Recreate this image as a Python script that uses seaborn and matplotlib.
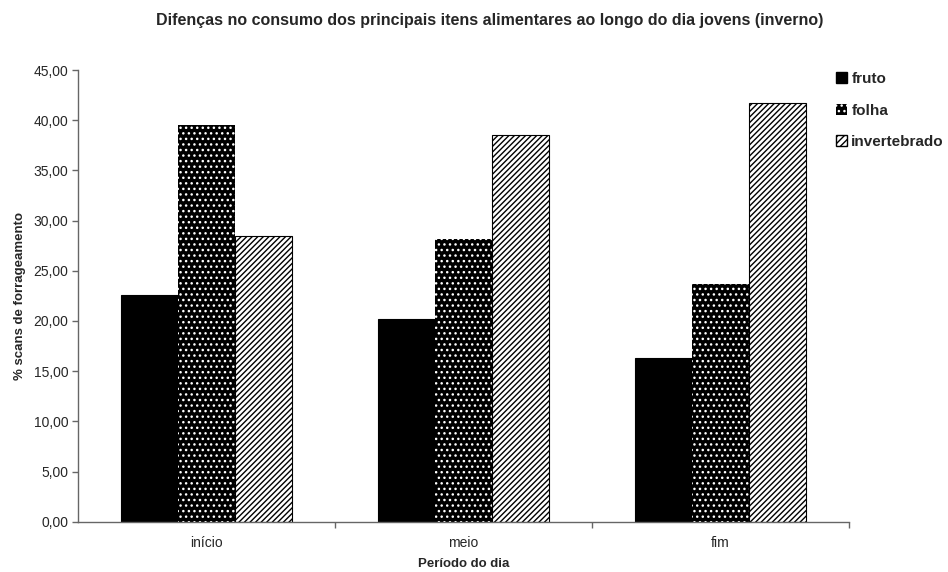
import matplotlib
matplotlib.use("Agg")
import matplotlib.pyplot as plt
from matplotlib.patches import Patch
from matplotlib.ticker import FuncFormatter, FixedLocator
import seaborn as sns
import pandas as pd

# Data
periodos = ["início", "meio", "fim"]
itens = ["fruto", "folha", "invertebrado"]
fruto = [22.6, 20.2, 16.3]
folha = [39.5, 28.2, 23.7]
invertebrado = [28.5, 38.5, 41.7]

df = pd.DataFrame({
    "periodo": periodos * 3,
    "item": [itens[0]] * 3 + [itens[1]] * 3 + [itens[2]] * 3,
    "valor": fruto + folha + invertebrado,
})

sns.set_style("white")
plt.rcParams["font.family"] = ["Liberation Sans", "DejaVu Sans"]
plt.rcParams["hatch.linewidth"] = 1.0

fig = plt.figure(figsize=(9.48, 5.72), dpi=100)
ax = fig.add_axes([78 / 948, 1 - 521.7 / 572, (849 - 78) / 948, (521.7 - 70) / 572])

sns.barplot(data=df, x="periodo", y="valor", hue="item", order=periodos,
            hue_order=itens, palette=["black", "black", "white"],
            width=0.665, gap=0, legend=False, ax=ax, saturation=1)

# Style each series: solid, dotted, diagonal stripes
styles = [
    dict(facecolor="black", edgecolor="black", hatch=None, lw=0.8),
    dict(facecolor="black", edgecolor="white", hatch="...", lw=0),
    dict(facecolor="white", edgecolor="black", hatch="//////", lw=0.8),
]
for cont, st in zip(ax.containers, styles):
    for bar in cont:
        bar.set_facecolor(st["facecolor"])
        bar.set_edgecolor(st["edgecolor"])
        bar.set_linewidth(st["lw"])
        if st["hatch"]:
            bar.set_hatch(st["hatch"])

ax.set_ylim(0, 45)
ax.set_xlim(-0.5, 2.5)
ax.yaxis.set_major_locator(FixedLocator([0, 5, 10, 15, 20, 25, 30, 35, 40, 45]))
ax.yaxis.set_major_formatter(FuncFormatter(lambda v, p: f"{v:.2f}".replace(".", ",")))
ax.xaxis.set_minor_locator(FixedLocator([0.5, 1.5, 2.5]))

for s in ["top", "right"]:
    ax.spines[s].set_visible(False)
for s in ["left", "bottom"]:
    ax.spines[s].set_color("#666666")
    ax.spines[s].set_linewidth(1.0)

ax.tick_params(axis="y", which="major", direction="out", length=4, width=1,
               color="#666666", labelsize=10, left=True, pad=3)
ax.tick_params(axis="x", which="major", length=0, labelsize=10, pad=10)
ax.tick_params(axis="x", which="minor", direction="out", length=4, width=1,
               color="#666666", bottom=True)

ax.set_xlabel("Período do dia", fontsize=9.5, fontweight="bold", labelpad=6)
ax.set_ylabel("% scans de forrageamento", fontsize=9.5, fontweight="bold", labelpad=5)

fig.text(490 / 948, 1 - 20 / 572,
         "Difenças no consumo dos principais itens alimentares ao longo do dia jovens (inverno)",
         ha="center", va="center", fontsize=11.5, fontweight="bold")

handles = [
    Patch(facecolor="black", edgecolor="black", label="fruto"),
    Patch(facecolor="black", edgecolor="white", hatch="...", lw=0, label="folha"),
    Patch(facecolor="white", edgecolor="black", hatch="/////", label="invertebrado"),
]
leg = fig.legend(handles=handles, loc="upper left", bbox_to_anchor=(836 / 948, 1 - 72 / 572),
                 frameon=False, handlelength=0.75, handleheight=0.75, handletextpad=0.25,
                 labelspacing=1.15, borderaxespad=0, borderpad=0,
                 prop=dict(size=11, weight="bold"))

fig.savefig("out.png", dpi=100)
